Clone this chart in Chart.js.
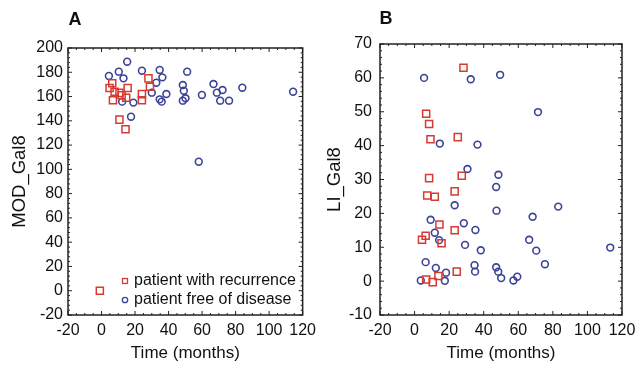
<!DOCTYPE html>
<html>
<head>
<meta charset="utf-8">
<script src="https://cdn.jsdelivr.net/npm/chart.js@4"></script>
<style>
  body { margin: 0; background: #fff; width: 644px; height: 368px; overflow: hidden; position: relative; }
  .panel { position: absolute; top: 0; height: 368px; }
  #panel-a { left: 0; width: 322px; }
  #panel-b { left: 322px; width: 322px; }
  canvas { display: block; }
</style>
</head>
<body>
<div class="panel" id="panel-a"><canvas id="chart-a" width="322" height="368"></canvas></div>
<div class="panel" id="panel-b"><canvas id="chart-b" width="322" height="368"></canvas></div>
<script>
// 공통 눈금
const timeTicks = [-20, 0, 20, 40, 60, 80, 100, 120];
const modTicks = [-20, 0, 20, 40, 60, 80, 100, 120, 140, 160, 180, 200];
const liTicks = [-10, 0, 10, 20, 30, 40, 50, 60, 70];

const legendLabels = ['patient with recurrence', 'patient free of disease'];

// A: MOD_Gal8 - 재발 환자
const aRecurTime = [-1, 6.4, 4.8, 7.8, 10.7, 6.8, 15.6, 14.7, 24.1, 24.1, 28, 28.9, 10.7, 14.3, 12];
const aRecurMod = [0, 171, 167, 164, 163, 157, 167, 159, 162, 157, 175, 168, 141, 133, 161];

// A: MOD_Gal8 - 무병 환자
const aFreeTime = [4.4, 10.3, 15.3, 13.1, 24.1, 34.7, 36.3, 32.7, 30, 12.3, 19, 17.6, 34.7, 35.9, 38.7,
    48.5, 50.1, 48.5, 49.1, 51.1, 59.9, 66.8, 72.2, 68.8, 70.8, 76.1, 84, 114.3, 58];
const aFreeMod = [177, 180.5, 188.7, 175, 181.3, 181.9, 175.8, 171.4, 163.2, 155.8, 155, 143.4, 157.7, 155.8, 162.1,
    156.6, 158.6, 169.5, 164.8, 180.5, 161.3, 170.3, 165.4, 163.2, 156.6, 156.6, 167.3, 164, 106.3];

// B: LI_Gal8 - 재발 환자
const bRecurTime = [28.3, 6.7, 8.4, 9.2, 25, 8.4, 27.3, 7.3, 11.7, 23.2, 14.4, 6.4, 4.3, 15.6, 23.2, 24.4, 6.7, 10.5, 13.8];
const bRecurLi = [63, 49.4, 46.4, 41.9, 42.5, 30.4, 31.1, 25.3, 24.9, 26.5, 16.7, 13.4, 12.2, 11.2, 15, 2.8, 0.5, -0.3, 1.5];

// B: LI_Gal8 - 무병 환자
const bFreeTime = [5.5, 32.5, 49.5, 71.4, 14.6, 36.4, 30.6, 48.5, 47.2, 23.2, 47.4, 83.1, 9.3, 28.5, 35.2, 11.7, 14.2,
    68.3, 66.3, 29.2, 38.3, 70.4, 113.2, 75.4, 6.4, 12.3, 34.7, 35, 47.2, 48.4, 18.2, 3.6, 17.5, 50.1, 57.2, 59.4];
const bFreeLi = [60, 59.6, 60.9, 49.9, 40.6, 40.3, 33.1, 31.4, 27.8, 22.4, 20.8, 22, 18.1, 17.1, 15.1, 14.3, 12.1,
    19, 12.2, 10.7, 9.1, 9, 9.9, 5, 5.6, 3.9, 4.7, 2.8, 4.1, 2.8, 2.5, 0.2, 0.1, 0.9, 0.2, 1.3];

const RED = '#d63a30';
const BLUE = '#3b4396';
const TEXT = '#111';
const FONT = "'Liberation Sans', Arial, sans-serif";

function toPoints(xs, ys) {
    return xs.map((x, i) => ({ x, y: ys[i] }));
}

// 플롯 테두리 + 안쪽 눈금
const boxPlugin = {
    id: 'box',
    afterDraw(chart) {
        const { ctx, chartArea: a, scales } = chart;
        const opts = chart.options.plugins.box;
        ctx.save();
        ctx.strokeStyle = '#222';
        ctx.lineWidth = 1.5;
        ctx.strokeRect(a.left, a.top, a.right - a.left, a.bottom - a.top);

        ctx.lineWidth = 1;
        const xs = scales.x, ys = scales.y;
        const xStep = 20 / 4;
        for (let v = xs.min; v <= xs.max + 1e-6; v += xStep) {
            const px = xs.getPixelForValue(v);
            const len = Math.abs((v - xs.min) % 20) < 1e-6 ? 4 : 2;
            ctx.beginPath();
            ctx.moveTo(px, a.bottom); ctx.lineTo(px, a.bottom - len);
            ctx.moveTo(px, a.top); ctx.lineTo(px, a.top + len);
            ctx.stroke();
        }
        const yStep = opts.yMajor / 5;
        for (let v = ys.min; v <= ys.max + 1e-6; v += yStep) {
            const py = ys.getPixelForValue(v);
            const r = Math.abs((v - ys.min) / opts.yMajor - Math.round((v - ys.min) / opts.yMajor));
            const len = r < 1e-6 ? 4 : 2;
            ctx.beginPath();
            ctx.moveTo(a.left, py); ctx.lineTo(a.left + len, py);
            ctx.moveTo(a.right, py); ctx.lineTo(a.right - len, py);
            ctx.stroke();
        }

        // 패널 문자
        ctx.fillStyle = TEXT;
        ctx.font = "bold 18px " + FONT;
        ctx.textAlign = 'center';
        ctx.textBaseline = 'middle';
        ctx.fillText(opts.panel.text, opts.panel.x, opts.panel.y);
        ctx.restore();
    }
};

// 플롯 안쪽 범례
const insideLegendPlugin = {
    id: 'insideLegend',
    afterDraw(chart) {
        const opts = chart.options.plugins.insideLegend;
        if (!opts || !opts.show) return;
        const { ctx, chartArea: a } = chart;
        ctx.save();
        ctx.font = "16px " + FONT;
        ctx.textBaseline = 'middle';
        ctx.textAlign = 'left';
        chart.data.datasets.forEach((ds, i) => {
            const y = a.bottom - 34 + i * 19;
            const mx = a.left + 57;
            ctx.strokeStyle = ds.borderColor;
            ctx.lineWidth = 1.3;
            if (ds.pointStyle === 'rect') {
                ctx.strokeRect(mx - 2.5, y - 2.5, 5, 5);
            } else {
                ctx.beginPath();
                ctx.arc(mx, y, 2.7, 0, Math.PI * 2);
                ctx.stroke();
            }
            ctx.fillStyle = TEXT;
            ctx.fillText(legendLabels[i], mx + 9, y);
        });
        ctx.restore();
    }
};

function makeChart(id, cfg) {
    return new Chart(document.getElementById(id), {
        type: 'scatter',
        data: {
            datasets: [{
                label: legendLabels[0],
                data: cfg.recur,
                pointStyle: 'rect',
                pointRadius: 5,
                borderColor: RED,
                backgroundColor: 'rgba(0,0,0,0)',
                borderWidth: 1.5
            }, {
                label: legendLabels[1],
                data: cfg.free,
                pointStyle: 'circle',
                pointRadius: 3.4,
                borderColor: BLUE,
                backgroundColor: 'rgba(0,0,0,0)',
                borderWidth: 1.6
            }]
        },
        options: {
            responsive: false,
            animation: false,
            layout: {
                padding: { left: 0, top: cfg.top, right: cfg.right, bottom: 0 }
            },
            plugins: {
                legend: { display: false },
                tooltip: { enabled: false },
                box: { yMajor: cfg.yTicks[1] - cfg.yTicks[0], panel: cfg.panel },
                insideLegend: { show: cfg.showLegend }
            },
            scales: {
                x: {
                    type: 'linear',
                    min: timeTicks[0],
                    max: timeTicks[timeTicks.length - 1],
                    afterBuildTicks: s => { s.ticks = timeTicks.map(v => ({ value: v })); },
                    afterFit: s => { s.height = 53; },
                    grid: { display: false, drawTicks: false },
                    border: { display: false },
                    ticks: { color: TEXT, font: { size: 16, family: FONT }, padding: 6, maxRotation: 0 },
                    title: { display: true, text: 'Time (months)', color: TEXT, font: { size: 17, family: FONT }, padding: { top: 2 } }
                },
                y: {
                    type: 'linear',
                    min: cfg.yTicks[0],
                    max: cfg.yTicks[cfg.yTicks.length - 1],
                    afterBuildTicks: s => { s.ticks = cfg.yTicks.map(v => ({ value: v })); },
                    afterFit: s => { s.width = cfg.left; },
                    grid: { display: false, drawTicks: false },
                    border: { display: false },
                    ticks: { color: TEXT, font: { size: 16, family: FONT }, padding: cfg.tickPad },
                    title: { display: true, text: cfg.yTitle, color: TEXT, font: { size: 18.5, family: FONT }, padding: { top: cfg.titleGap, bottom: 0 } }
                }
            }
        },
        plugins: [boxPlugin, insideLegendPlugin]
    });
}

makeChart('chart-a', {
    recur: toPoints(aRecurTime, aRecurMod),
    free: toPoints(aFreeTime, aFreeMod),
    yTicks: modTicks,
    yTitle: 'MOD_Gal8',
    left: 68, right: 17, top: 48, titleGap: 9, tickPad: 5,
    panel: { text: 'A', x: 75, y: 20 },
    showLegend: true
});

makeChart('chart-b', {
    recur: toPoints(bRecurTime, bRecurLi),
    free: toPoints(bFreeTime, bFreeLi),
    yTicks: liTicks,
    yTitle: 'LI_Gal8',
    left: 58, right: 22, top: 44, titleGap: 2, tickPad: 8,
    panel: { text: 'B', x: 64, y: 19 },
    showLegend: false
});
</script>
</body>
</html>
